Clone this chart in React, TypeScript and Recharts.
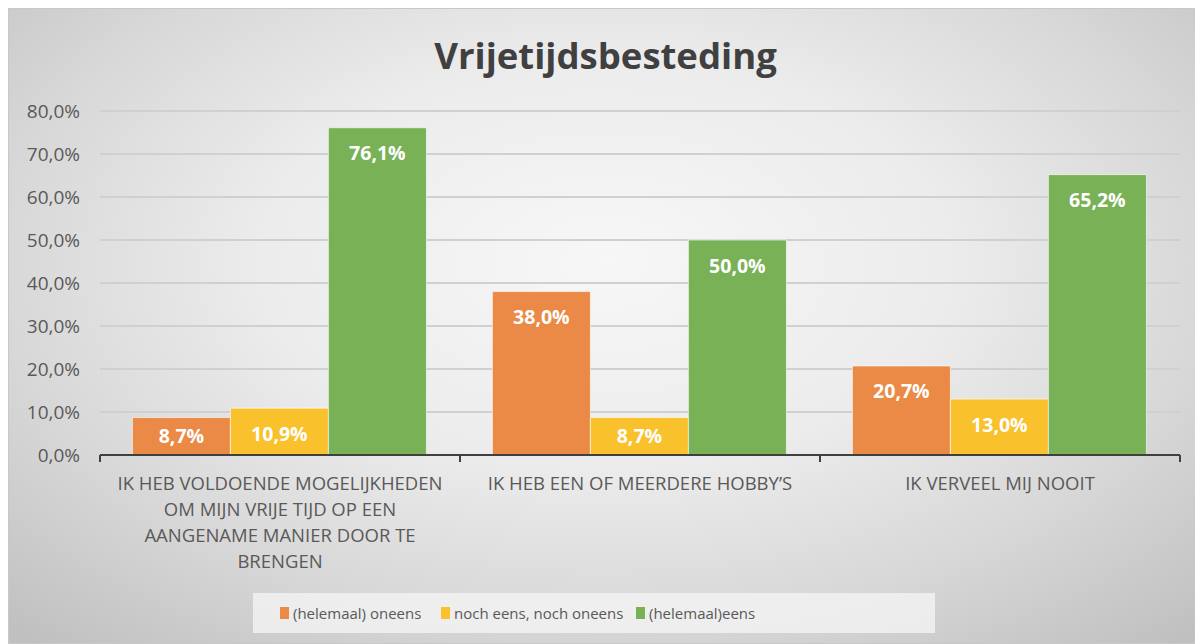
import { BarChart, Bar, XAxis, YAxis, CartesianGrid, Legend, LabelList } from 'recharts'

const categories = [
    'IK HEB VOLDOENDE MOGELIJKHEDEN OM MIJN VRIJE TIJD OP EEN AANGENAME MANIER DOOR TE BRENGEN',
    'IK HEB EEN OF MEERDERE HOBBY\u2019S',
    'IK VERVEEL MIJ NOOIT',
]
const oneens = [8.7, 38.0, 20.7]
const neutraal = [10.9, 8.7, 13.0]
const eens = [76.1, 50.0, 65.2]
const yTicks = [0, 10, 20, 30, 40, 50, 60, 70, 80]

const seriesNames = ['(helemaal) oneens', 'noch eens, noch oneens', '(helemaal)eens']
const colors = ['#EA8A46', '#F9C12C', '#78B156']

const data = categories.map((name, i) => ({
    name,
    oneens: oneens[i],
    neutraal: neutraal[i],
    eens: eens[i],
}))

const FONT = '"Open Sans", Lato, sans-serif'
const TICK_SIZE = 18.5

let ctx: CanvasRenderingContext2D | null = null

// word wrap by measured width
function wrapWords(text: string, maxWidth: number) {
    if (!ctx) ctx = document.createElement('canvas').getContext('2d')
    if (!ctx) return [text]
    ctx.font = `${TICK_SIZE}px ${FONT}`
    const lines: string[] = []
    let cur = ''
    for (const w of text.split(' ')) {
        const next = cur ? `${cur} ${w}` : w
        if (cur && ctx.measureText(next).width > maxWidth) {
            lines.push(cur)
            cur = w
        } else {
            cur = next
        }
    }
    if (cur) lines.push(cur)
    return lines
}

function formatPct(v: number) {
    return `${v.toFixed(1).replace('.', ',')}%`
}

function CategoryTick(props: any) {
    const { x, y, payload, width, visibleTicksCount, index } = props
    const band = width / visibleTicksCount
    const left = x - band / 2
    const right = x + band / 2
    const lines = wrapWords(payload.value, 345)
    return (
        <g>
            <line x1={left} x2={left} y1={y - 8} y2={y - 1} stroke="#404040" strokeWidth={2} />
            {index === visibleTicksCount - 1 && (
                <line x1={right} x2={right} y1={y - 8} y2={y - 1} stroke="#404040" strokeWidth={2} />
            )}
            <text textAnchor="middle" fontSize={TICK_SIZE} fontFamily={FONT} fill="#595959">
                {lines.map((l, i) => (
                    <tspan key={i} x={x} y={y + 27 + i * 26}>
                        {l}
                    </tspan>
                ))}
            </text>
        </g>
    )
}

function BarValue(props: any) {
    const { x, y, width, height, value } = props
    const dy = Math.min(25, height - 20)
    return (
        <text
            x={x + width / 2}
            y={y + dy}
            textAnchor="middle"
            dominantBaseline="central"
            fill="#ffffff"
            fontWeight="bold"
            fontSize={19.5}
            fontFamily={FONT}
        >
            {formatPct(value)}
        </text>
    )
}

function LegendBox() {
    return (
        <div
            style={{
                height: 40,
                background: 'rgba(245,245,245,0.75)',
                display: 'flex',
                alignItems: 'center',
                paddingLeft: 27,
                fontFamily: FONT,
                fontSize: 15,
                color: '#595959',
            }}
        >
            {seriesNames.map((n, i) => (
                <div key={n} style={{ display: 'flex', alignItems: 'center', width: i === 0 ? 161 : i === 1 ? 195 : 'auto' }}>
                    <span style={{ width: 9, height: 12, background: colors[i], marginRight: 4, display: 'inline-block' }} />
                    {n}
                </div>
            ))}
        </div>
    )
}

export default function App() {
    return (
        <div
            style={{
                position: 'relative',
                width: 1195,
                height: 636,
                border: '1px solid #c8c8c8',
                boxSizing: 'border-box',
                background:
                    'radial-gradient(ellipse 72% 80% at 50% 40%, #f7f7f7 0%, #ececec 40%, #d8d8d8 70%, #c0c0c0 100%)',
            }}
        >
            <div
                style={{
                    position: 'absolute',
                    top: 21,
                    left: 0,
                    width: '100%',
                    textAlign: 'center',
                    fontFamily: FONT,
                    fontWeight: 'bold',
                    fontSize: 36.5,
                    color: '#404040',
                }}
            >
                Vrijetijdsbesteding
            </div>
            <BarChart
                width={1195}
                height={636}
                data={data}
                margin={{ top: 103, right: 23, bottom: 11, left: 12 }}
                barCategoryGap="9%"
                barGap={0}
                style={{ position: 'absolute', top: -1, left: -1 }}
            >
                <CartesianGrid vertical={false} stroke="#d0d0d0" strokeWidth={2} />
                <XAxis
                    dataKey="name"
                    height={138}
                    interval={0}
                    tick={<CategoryTick />}
                    tickLine={false}
                    axisLine={{ stroke: '#404040', strokeWidth: 2 }}
                />
                <YAxis
                    width={80}
                    domain={[0, 80]}
                    ticks={yTicks}
                    tickFormatter={formatPct}
                    tickSize={0}
                    tickMargin={20}
                    axisLine={false}
                    tickLine={false}
                    tick={{ fontSize: 19, fill: '#595959', fontFamily: FONT }}
                />
                <Legend
                    verticalAlign="bottom"
                    content={<LegendBox />}
                    wrapperStyle={{ left: 245, width: 682, bottom: 11 }}
                />
                <Bar dataKey="oneens" name={seriesNames[0]} fill={colors[0]} stroke="#ffffff" strokeOpacity={0.6} isAnimationActive={false}>
                    <LabelList dataKey="oneens" content={<BarValue />} />
                </Bar>
                <Bar dataKey="neutraal" name={seriesNames[1]} fill={colors[1]} stroke="#ffffff" strokeOpacity={0.6} isAnimationActive={false}>
                    <LabelList dataKey="neutraal" content={<BarValue />} />
                </Bar>
                <Bar dataKey="eens" name={seriesNames[2]} fill={colors[2]} stroke="#ffffff" strokeOpacity={0.6} isAnimationActive={false}>
                    <LabelList dataKey="eens" content={<BarValue />} />
                </Bar>
            </BarChart>
        </div>
    )
}
